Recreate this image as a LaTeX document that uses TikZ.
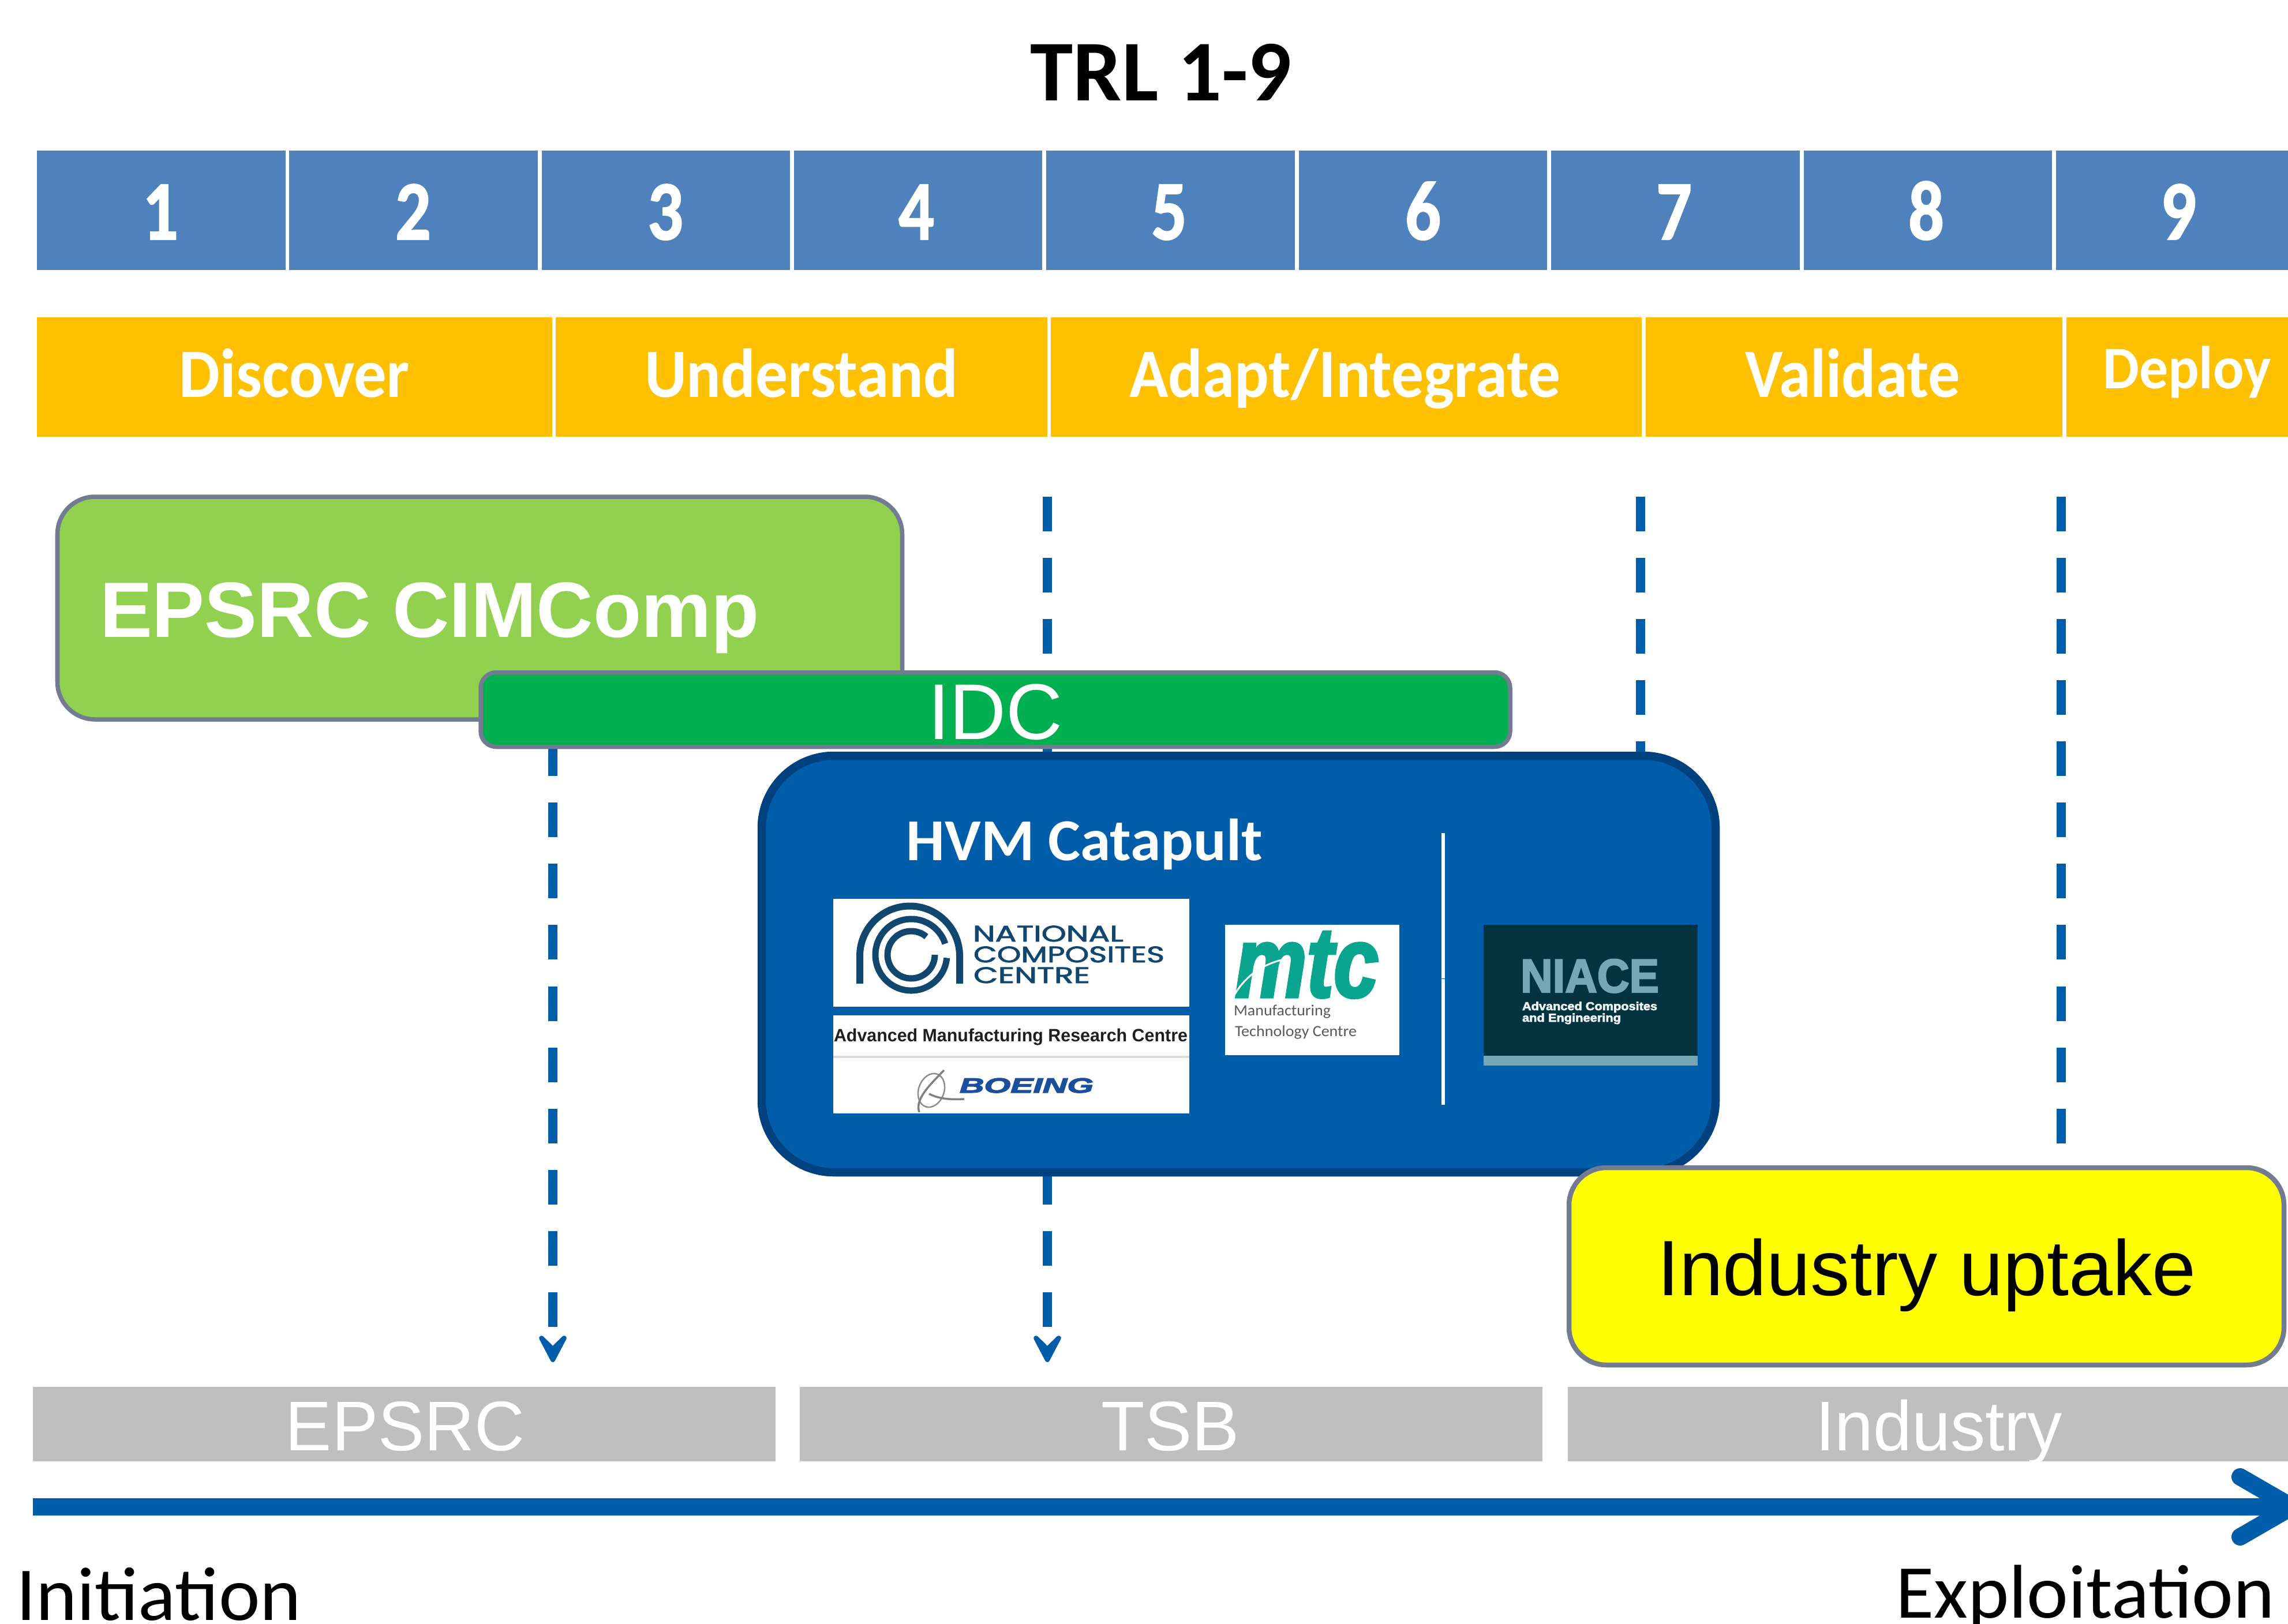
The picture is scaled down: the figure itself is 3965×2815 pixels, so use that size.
\documentclass[tikz,border=0pt]{standalone}
\usepackage{fontspec}
\usepackage{graphicx}
\usetikzlibrary{arrows.meta}
\setmainfont{Liberation Sans}
\newfontfamily\carl{Carlito}
\newfontfamily\carlh[BoldFeatures={FakeBold=1.5}]{Carlito}
\newfontfamily\poppm[FakeBold=2]{Poppins}
\newfontfamily\heavyf[BoldFeatures={FakeBold=3},BoldItalicFeatures={FakeBold=3}]{Liberation Sans}
\definecolor{cellblue}{HTML}{4F81BD}
\definecolor{phaseorange}{HTML}{FFC000}
\definecolor{catfill}{HTML}{005DAA}
\definecolor{catline}{HTML}{00417F}
\definecolor{slateline}{HTML}{727B90}
\definecolor{lime}{HTML}{92D050}
\definecolor{idcgreen}{HTML}{00B050}
\definecolor{fundgrey}{HTML}{BFBFBF}
\definecolor{nccblue}{HTML}{11476E}
\definecolor{boeingblue}{HTML}{1A4F9E}
\definecolor{mtcteal}{HTML}{0AA58F}
\definecolor{niacedark}{HTML}{03333F}
\definecolor{niacepale}{HTML}{74A8B4}
\definecolor{uptakeyellow}{HTML}{FFFF00}
\newdimen\pxu \pxu=0.01cm
\newcommand\pxf[1]{\fontsize{\the\dimexpr#1\pxu\relax}{\the\dimexpr#1\pxu\relax}\selectfont}
\newsavebox\fitbox
% scale horizontally so that the text is (xr-xl) px wide
\newcommand\fitx[2]{\sbox\fitbox{#2}\pgfmathsetlengthmacro\fitw{(#1)*0.01cm}%
  \resizebox*{\fitw}{\dimexpr\ht\fitbox+\dp\fitbox\relax}{\usebox\fitbox}}
% box with text: style,name,x1,y1,x2,y2,baseline,xl,xr,{text}
\newcommand\bx[9]{%
  \pgfmathsetlengthmacro\bxH{(#7-#4)*0.01cm}%
  \pgfmathsetlengthmacro\bxD{(#6-#7)*0.01cm}%
  \pgfmathsetlengthmacro\bxW{(#5-#3)*0.01cm}%
  \pgfmathsetlengthmacro\bxO{(#8-#3)*0.01cm}%
  \def\bxargs{\node[#1,anchor=north west,inner sep=0pt,outer sep=0pt,text height=\bxH,text depth=\bxD] (#2) at (#3,#4)}%
  \def\bxwid{(#9-#8)}\bxfin}
\newcommand\bxfin[1]{\bxargs{\makebox[\bxW][l]{\hspace*{\bxO}\fitx{\bxwid}{#1}}};}
% plain box: style,name,x1,y1,x2,y2
\newcommand\plain[6]{%
  \pgfmathsetlengthmacro\bxH{(#6-#4)*0.01cm}%
  \pgfmathsetlengthmacro\bxW{(#5-#3)*0.01cm}%
  \node[#1,anchor=north west,inner sep=0pt,outer sep=0pt,minimum width=\bxW,minimum height=\bxH] (#2) at (#3,#4) {};}
% free text: style,name,xl,xr,baseline,{text}
\newcommand\txt[6]{\node[#1,anchor=base west,inner sep=0pt,outer sep=0pt] (#2) at (#3,#5) {\fitx{#4-#3}{#6}};}
\tikzset{
  cellbox/.style={fill=cellblue,text=white},
  phasebox/.style={fill=phaseorange,text=white},
  fundbox/.style={fill=fundgrey,text=white},
  limebox/.style={fill=lime,draw=slateline,line width=0.075cm,rounded corners=0.65cm,text=white},
  idcbox/.style={fill=idcgreen,draw=slateline,line width=0.075cm,rounded corners=0.27cm,text=white},
  catbox/.style={fill=catfill,draw=catline,line width=0.145cm,rounded corners=1.25cm,text=white},
  yellowbox/.style={fill=uptakeyellow,draw=slateline,line width=0.085cm,rounded corners=0.65cm,text=black},
  logobox/.style={fill=white},
  dashlink/.style={draw=catfill,line width=0.16cm,dash pattern=on 0.6cm off 0.46cm,
    -{Stealth[length=0.67cm,width=0.7cm,inset=0.34cm,round]}},
  mainline/.style={draw=catfill,line width=0.305cm},
  mainhead/.style={draw=catfill,line width=0.3cm,line cap=round,miter limit=10},
}
\begin{document}
\begin{tikzpicture}[x=0.01cm,y=-0.01cm]
\useasboundingbox (0,0) rectangle (3965,2815);
\clip (0,0) rectangle (3965,2815);
\fill[white] (0,0) rectangle (3965,2815);

\node[anchor=base west,inner sep=0pt] (title) at (1785,175) {\fitx{2238-1785}{\carl\bfseries\pxf{150}TRL 1-9}};

% TRL cells
\bx{cellbox}{c1}{64}{261}{495}{468}{415}{247}{309}{\carlh\bfseries\pxf{146}1}
\bx{cellbox}{c2}{501}{261}{932}{468}{415}{685}{747}{\carlh\bfseries\pxf{146}2}
\bx{cellbox}{c3}{939}{261}{1369}{468}{415}{1122}{1184}{\carlh\bfseries\pxf{146}3}
\bx{cellbox}{c4}{1376}{261}{1806}{468}{415}{1557}{1619}{\carlh\bfseries\pxf{146}4}
\bx{cellbox}{c5}{1813}{261}{2244}{468}{415}{1995}{2057}{\carlh\bfseries\pxf{146}5}
\bx{cellbox}{c6}{2251}{261}{2681}{468}{415}{2435}{2497}{\carlh\bfseries\pxf{146}6}
\bx{cellbox}{c7}{2688}{261}{3119}{468}{415}{2870}{2932}{\carlh\bfseries\pxf{146}7}
\bx{cellbox}{c8}{3126}{261}{3556}{468}{415}{3307}{3369}{\carlh\bfseries\pxf{146}8}
\bx{cellbox}{c9}{3563}{261}{3965}{468}{415}{3744}{3806}{\carlh\bfseries\pxf{146}9}

% phases
\bx{phasebox}{p1}{64}{550}{957}{757}{688}{311}{710}{\carl\bfseries\pxf{120}Discover}
\bx{phasebox}{p2}{963}{550}{1815}{757}{688}{1117}{1660}{\carl\bfseries\pxf{120}Understand}
\bx{phasebox}{p3}{1821}{550}{2845}{757}{688}{1957}{2704}{\carl\bfseries\pxf{120}Adapt/Integrate}
\bx{phasebox}{p4}{2852}{550}{3574}{757}{688}{3024}{3397}{\carl\bfseries\pxf{120}Validate}
\bx{phasebox}{p5}{3581}{550}{3965}{757}{673}{3644}{3936}{\carl\bfseries\pxf{105}Deploy}

% dashed links
\coordinate (d1s) at (958,861);  \coordinate (d1e) at (958,2361);
\coordinate (d2s) at (1815,861); \coordinate (d2e) at (1815,2361);
\coordinate (d3s) at (2843,861); \coordinate (d3e) at (2843,2361);
\coordinate (d4s) at (3572,861); \coordinate (d4e) at (3572,2361);
\draw[dashlink] (d1s) -- (d1e);
\draw[dashlink] (d2s) -- (d2e);
\draw[dashlink] (d3s) -- (d3e);
\draw[dashlink] (d4s) -- (d4e);

% programme boxes
\bx{limebox}{cimcomp}{99.5}{861}{1563.5}{1247}{1104}{173}{1316}{\bfseries\pxf{136}EPSRC CIMComp}
\bx{idcbox}{idc}{833}{1165.5}{2617}{1294.5}{1281}{1608}{1842}{\pxf{137}IDC}
\plain{catbox}{hvm}{1320}{1310}{2973}{2032}
\node[anchor=base west,inner sep=0pt,text=white] (hvmt) at (1570,1491) {\fitx{2187-1570}{\carl\bfseries\pxf{103}HVM Catapult}};

% NCC logo
\plain{logobox}{ncc}{1444}{1558}{2061}{1745}
\coordinate (ncca) at (1490,1705); \coordinate (nccb) at (1663,1705);
\draw[nccblue,line width=0.12cm] (ncca) -- (1490,1657) arc[start angle=180,end angle=360,radius=86.5] -- (nccb);
\draw[nccblue,line width=0.11cm] (1579,1655) ++(-18:62) arc[start angle=-18,end angle=-355,radius=62];
\draw[nccblue,line width=0.11cm] (1579,1655) ++(-50:41) arc[start angle=-50,end angle=-360,radius=41];
\txt{text=nccblue}{ncc1}{1686}{1947}{1632}{\poppm\pxf{39}NATIONAL}
\txt{text=nccblue}{ncc2}{1687}{2018}{1668}{\poppm\pxf{39}COMPOSITES}
\txt{text=nccblue}{ncc3}{1687}{1889}{1704}{\poppm\pxf{39}CENTRE}

% AMRC / Boeing logo
\plain{logobox}{amrc}{1444}{1760}{2061}{1930}
\txt{text=black!88}{amrct}{1445}{2058}{1805}{\bfseries\pxf{31}Advanced Manufacturing Research Centre}
\coordinate (sepa) at (1444,1832); \coordinate (sepb) at (2061,1832);
\draw[black!14,line width=0.035cm] (sepa) -- (sepb);
\draw[black!45,line width=0.025cm,rotate around={-20:(1614,1890)}] (1614,1890) ellipse[x radius=22,y radius=30];
\draw[black!50,line width=0.035cm] (1636,1855) .. controls (1612,1880) and (1585,1905) .. (1593,1928);
\draw[black!50,line width=0.035cm] (1610,1896) .. controls (1630,1906) and (1650,1906) .. (1671,1905);
\txt{text=boeingblue}{boeing}{1663}{1895}{1894}{\heavyf\bfseries\itshape\pxf{36}BOEING}

% MTC logo
\plain{logobox}{mtc}{2123}{1603}{2425}{1829}
\txt{text=mtcteal}{mtct}{2140}{2389}{1728}{\heavyf\bfseries\itshape\pxf{173}mtc}
\draw[white,line width=0.03cm] (2140,1723) .. controls (2160,1690) and (2190,1670) .. (2229,1662);
\txt{text=black!65}{mtc1}{2138}{2306}{1760}{\carl\pxf{27}Manufacturing}
\txt{text=black!65}{mtc2}{2140}{2351}{1796}{\carl\pxf{27}Technology Centre}

% divider
\coordinate (diva) at (2501,1444); \coordinate (divm) at (2501,1696); \coordinate (divn) at (2501,1697); \coordinate (divb) at (2501,1915);
\draw[white,line width=0.055cm] (diva) -- (divm);
\draw[white,line width=0.055cm] (divn) -- (divb);

% NIACE logo
\plain{fill=niacedark}{niace}{2571}{1603}{2942}{1830}
\plain{fill=niacepale}{niaceb}{2571}{1830}{2942}{1847}
\txt{text=niacepale}{niacet}{2635}{2875}{1720}{\heavyf\bfseries\pxf{82}NIACE}
\txt{text=white!85!niacepale}{niace1}{2638}{2872}{1751}{\heavyf\bfseries\pxf{20}Advanced Composites}
\txt{text=white!85!niacepale}{niace2}{2638}{2809}{1771}{\heavyf\bfseries\pxf{20}and Engineering}

% industry
\bx{yellowbox}{uptake}{2719}{2024}{3958}{2366}{2245}{2872}{3806}{\pxf{136}Industry uptake}

% funders
\bx{fundbox}{f1}{57}{2404}{1344}{2533}{2514}{495}{909}{\pxf{122}EPSRC}
\bx{fundbox}{f2}{1386}{2404}{2673}{2533}{2514}{1908}{2148}{\pxf{122}TSB}
\bx{fundbox}{f3}{2717}{2404}{3965}{2533}{2514}{3146}{3574}{\pxf{122}Industry}

% main arrow
\coordinate (ms) at (57,2612); \coordinate (mt) at (3972,2612);
\coordinate (ma) at (3882,2560); \coordinate (mb) at (3882,2664);
\draw[mainline] (ms) -- (mt);
\draw[mainhead] (ma) -- (mt) -- (mb);

\txt{text=black}{init}{28}{522}{2808}{\carl\pxf{132}Initiation}
\txt{text=black}{expl}{3285}{3942}{2804}{\carl\pxf{132}Exploitation}
\end{tikzpicture}
\end{document}
